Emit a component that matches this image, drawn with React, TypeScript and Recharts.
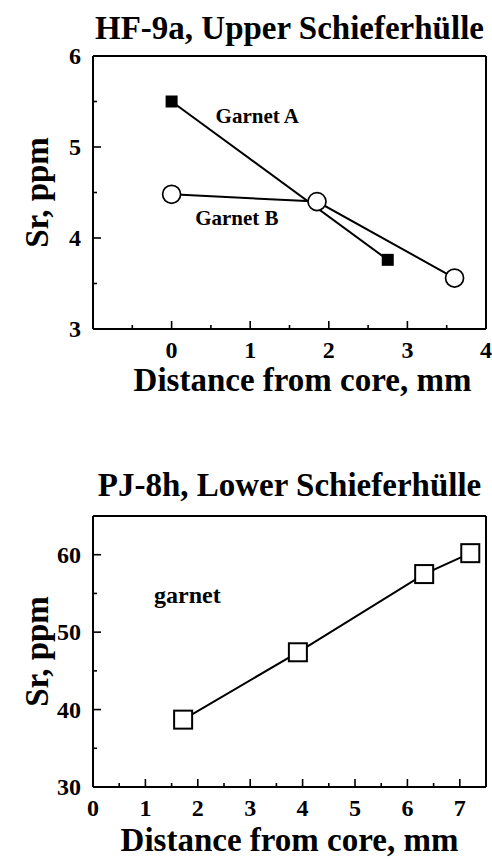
import React from 'react';
import { LineChart, Line, XAxis, YAxis, Label, ReferenceDot } from 'recharts';

const FONT = '"Liberation Serif", "Times New Roman", Times, serif';

// ---------- Panel 1: HF-9a ----------
const hfTitle = 'HF-9a, Upper Schieferhülle';
const garnetA = [
  { d: 0, sr: 5.5 },
  { d: 2.75, sr: 3.76 },
];
const garnetB = [
  { d: 0, sr: 4.48 },
  { d: 1.85, sr: 4.4 },
  { d: 3.6, sr: 3.56 },
];
const hfXDomain = [-1, 4];
const hfYDomain = [3, 6];
const hfXTicks = [-1, -0.5, 0, 0.5, 1, 1.5, 2, 2.5, 3, 3.5, 4];
const hfXMajors = [-1, 0, 1, 2, 3, 4];
const hfXLabels = [0, 1, 2, 3, 4];
const hfYTicks = [3, 3.5, 4, 4.5, 5, 5.5, 6];
const hfYMajors = [3, 4, 5, 6];
const hfYLabels = [3, 4, 5, 6];
const hfNotes = [
  { text: 'Garnet A', d: 1.09, sr: 5.35 },
  { text: 'Garnet B', d: 0.83, sr: 4.22 },
];

// ---------- Panel 2: PJ-8h ----------
const pjTitle = 'PJ-8h, Lower Schieferhülle';
const pjGarnet = [
  { d: 1.72, sr: 38.7 },
  { d: 3.91, sr: 47.4 },
  { d: 6.32, sr: 57.5 },
  { d: 7.2, sr: 60.2 },
];
const pjXDomain = [0, 7.5];
const pjYDomain = [30, 65];
const pjXTicks = [0, 0.5, 1, 1.5, 2, 2.5, 3, 3.5, 4, 4.5, 5, 5.5, 6, 6.5, 7, 7.5];
const pjXMajors = [0, 1, 2, 3, 4, 5, 6, 7];
const pjXLabels = [0, 1, 2, 3, 4, 5, 6, 7];
const pjYTicks = [30, 35, 40, 45, 50, 55, 60, 65];
const pjYMajors = [30, 40, 50, 60];
const pjYLabels = [30, 40, 50, 60];
const pjNotes = [{ text: 'garnet', d: 1.8, sr: 54.8 }];

const xTitle = 'Distance from core, mm';
const yTitle = 'Sr, ppm';

type Side = 'bottom' | 'top' | 'left' | 'right';

const makeTick = (side: Side, majors: number[], labels: number[]) => (props: any) => {
  const { x, y, payload, index } = props;
  const v = payload.value;
  const len = majors.includes(v) ? 8 : 4;
  const showLabel = labels.includes(v);
  let line;
  let label = null;
  if (side === 'bottom') {
    line = <line x1={x} y1={y} x2={x} y2={y - len} stroke="#000" strokeWidth={1.6} />;
    if (showLabel)
      label = (
        <text x={x} y={y + 29} textAnchor="middle" fontFamily={FONT} fontWeight="bold" fontSize={24} fill="#000">
          {v}
        </text>
      );
  } else if (side === 'top') {
    line = <line x1={x} y1={y} x2={x} y2={y + len} stroke="#000" strokeWidth={1.6} />;
  } else if (side === 'left') {
    line = <line x1={x} y1={y} x2={x + len} y2={y} stroke="#000" strokeWidth={1.6} />;
    if (showLabel)
      label = (
        <text x={x - 12} y={y + 8} textAnchor="end" fontFamily={FONT} fontWeight="bold" fontSize={24} fill="#000">
          {v}
        </text>
      );
  } else {
    line = <line x1={x} y1={y} x2={x - len} y2={y} stroke="#000" strokeWidth={1.6} />;
  }
  return (
    <g key={`${side}-${index}`}>
      {line}
      {label}
    </g>
  );
};

const squareFilled = (p: any) => (
  <rect key={`sf-${p.index}`} x={p.cx - 6} y={p.cy - 6} width={12} height={12} fill="#000" />
);
const circleOpen = (p: any) => (
  <circle key={`co-${p.index}`} cx={p.cx} cy={p.cy} r={9} fill="#fff" stroke="#000" strokeWidth={1.7} />
);
const squareOpen = (p: any) => (
  <rect key={`so-${p.index}`} x={p.cx - 9} y={p.cy - 9} width={18} height={18} fill="#fff" stroke="#000" strokeWidth={2} />
);

const axisLine = { stroke: '#000', strokeWidth: 2 };
const titleStyle = { fontFamily: FONT, fontWeight: 'bold' as const, fontSize: 33, fill: '#000' };

export default function App() {
  return (
    <div style={{ position: 'absolute', left: 0, top: 0, width: 492, height: 862, background: '#fff' }}>
      <div style={{ position: 'absolute', left: 0, top: 0 }}>
        <LineChart width={492} height={431} margin={{ top: 55, right: 5, bottom: 0, left: 0 }}>
          <XAxis
            xAxisId="b"
            type="number"
            dataKey="d"
            orientation="bottom"
            domain={hfXDomain}
            ticks={hfXTicks}
            interval={0}
            height={102}
            tickSize={0}
            tickMargin={0}
            tickLine={false}
            axisLine={axisLine}
            tick={makeTick('bottom', hfXMajors, hfXLabels)}
          >
            <Label value={xTitle} position="insideBottom" offset={40} dx={13} {...titleStyle} />
          </XAxis>
          <XAxis
            xAxisId="t"
            type="number"
            dataKey="d"
            orientation="top"
            domain={hfXDomain}
            ticks={hfXTicks}
            interval={0}
            height={1}
            tickSize={0}
            tickMargin={0}
            tickLine={false}
            axisLine={axisLine}
            tick={makeTick('top', hfXMajors, [])}
          >
            <Label value={hfTitle} position="top" offset={16} {...titleStyle} />
          </XAxis>
          <YAxis
            yAxisId="l"
            type="number"
            orientation="left"
            domain={hfYDomain}
            ticks={hfYTicks}
            interval={0}
            width={93}
            tickSize={0}
            tickMargin={0}
            tickLine={false}
            axisLine={axisLine}
            tick={makeTick('left', hfYMajors, hfYLabels)}
          >
            <Label value={yTitle} angle={-90} position="insideLeft" offset={36} style={{ textAnchor: 'middle' }} {...titleStyle} />
          </YAxis>
          <YAxis
            yAxisId="r"
            type="number"
            orientation="right"
            domain={hfYDomain}
            ticks={hfYTicks}
            interval={0}
            width={1}
            tickSize={0}
            tickMargin={0}
            tickLine={false}
            axisLine={axisLine}
            tick={makeTick('right', hfYMajors, [])}
          />
          <Line
            xAxisId="b"
            yAxisId="l"
            data={garnetA}
            dataKey="sr"
            stroke="#000"
            strokeWidth={2}
            dot={squareFilled}
            activeDot={false}
            isAnimationActive={false}
          />
          <Line
            xAxisId="b"
            yAxisId="l"
            data={garnetB}
            dataKey="sr"
            stroke="#000"
            strokeWidth={2}
            dot={circleOpen}
            activeDot={false}
            isAnimationActive={false}
          />
          {hfNotes.map((n) => (
            <ReferenceDot
              key={n.text}
              xAxisId="b"
              yAxisId="l"
              x={n.d}
              y={n.sr}
              r={1}
              fill="none"
              stroke="none"
              label={{ value: n.text, position: 'center', fontFamily: FONT, fontWeight: 'bold', fontSize: 21, fill: '#000' }}
            />
          ))}
        </LineChart>
      </div>
      <div style={{ position: 'absolute', left: 0, top: 431 }}>
        <LineChart width={492} height={431} margin={{ top: 84, right: 5, bottom: 0, left: 0 }}>
          <XAxis
            xAxisId="b"
            type="number"
            dataKey="d"
            orientation="bottom"
            domain={pjXDomain}
            ticks={pjXTicks}
            interval={0}
            height={75}
            tickSize={0}
            tickMargin={0}
            tickLine={false}
            axisLine={axisLine}
            tick={makeTick('bottom', pjXMajors, pjXLabels)}
          >
            <Label value={xTitle} position="insideBottom" offset={11} {...titleStyle} />
          </XAxis>
          <XAxis
            xAxisId="t"
            type="number"
            dataKey="d"
            orientation="top"
            domain={pjXDomain}
            ticks={pjXTicks}
            interval={0}
            height={1}
            tickSize={0}
            tickMargin={0}
            tickLine={false}
            axisLine={axisLine}
            tick={makeTick('top', pjXMajors, [])}
          >
            <Label value={pjTitle} position="top" offset={19} {...titleStyle} />
          </XAxis>
          <YAxis
            yAxisId="l"
            type="number"
            orientation="left"
            domain={pjYDomain}
            ticks={pjYTicks}
            interval={0}
            width={93}
            tickSize={0}
            tickMargin={0}
            tickLine={false}
            axisLine={axisLine}
            tick={makeTick('left', pjYMajors, pjYLabels)}
          >
            <Label value={yTitle} angle={-90} position="insideLeft" offset={36} style={{ textAnchor: 'middle' }} {...titleStyle} />
          </YAxis>
          <YAxis
            yAxisId="r"
            type="number"
            orientation="right"
            domain={pjYDomain}
            ticks={pjYTicks}
            interval={0}
            width={1}
            tickSize={0}
            tickMargin={0}
            tickLine={false}
            axisLine={axisLine}
            tick={makeTick('right', pjYMajors, [])}
          />
          <Line
            xAxisId="b"
            yAxisId="l"
            data={pjGarnet}
            dataKey="sr"
            stroke="#000"
            strokeWidth={2}
            dot={squareOpen}
            activeDot={false}
            isAnimationActive={false}
          />
          {pjNotes.map((n) => (
            <ReferenceDot
              key={n.text}
              xAxisId="b"
              yAxisId="l"
              x={n.d}
              y={n.sr}
              r={1}
              fill="none"
              stroke="none"
              label={{ value: n.text, position: 'center', fontFamily: FONT, fontWeight: 'bold', fontSize: 24, fill: '#000' }}
            />
          ))}
        </LineChart>
      </div>
    </div>
  );
}
